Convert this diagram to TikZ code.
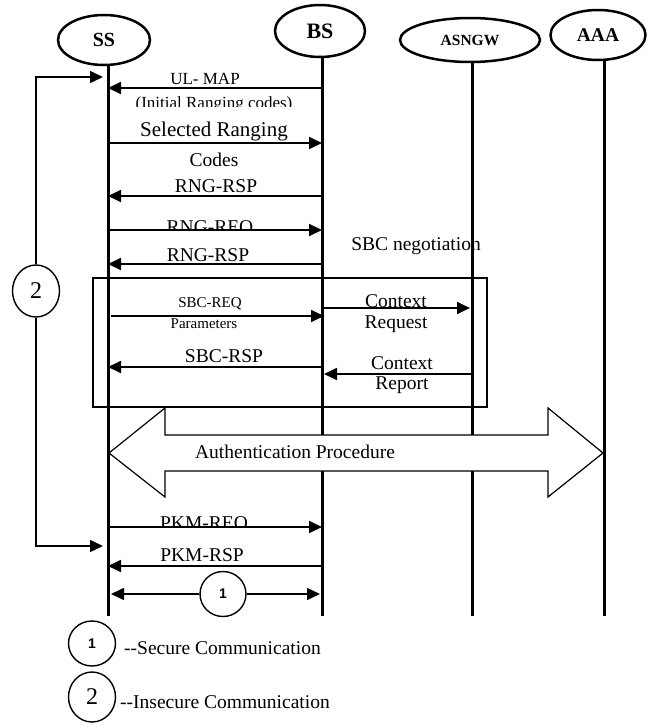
\documentclass[tikz,border=0pt]{standalone}
\usepackage{fontspec}
\setmainfont{Liberation Serif}
\newfontfamily\digitfont{Liberation Sans}
\usetikzlibrary{arrows.meta,shapes.geometric}
\newcommand\fs[1]{\fontsize{#1}{#1}\selectfont}
\begin{document}
\begin{tikzpicture}[x=1pt,y=-1pt,
  every node/.style={inner sep=0pt},
  actor/.style={draw,ellipse,line width=2.5pt,inner sep=0pt},
  life/.style={line width=3pt},
  tip/.style={-{Triangle[length=13pt,width=12pt]}},
  msg/.style={tip,line width=1.8pt},
  lbl/.style={font=\fs{19.5}},
  smalllbl/.style={font=\fs{15}},
  ring/.style={draw,ellipse,line width=1.4pt,inner sep=0pt},
  brk/.style={tip,line width=1.5pt}
]
\useasboundingbox (0,0) rectangle (648,723);

% lifeline feet
\coordinate (ssB) at (108,616);
\coordinate (bsB) at (322,616);
\coordinate (gwB) at (472,616);
\coordinate (aaB) at (604,616);

% actors
\node[actor,minimum width=92pt,minimum height=50pt,font=\bfseries\fs{20}] (ss) at (104,40) {SS};
\node[actor,minimum width=90pt,minimum height=52pt,font=\bfseries\fs{22}] (bs) at (320,31) {BS};
\node[actor,minimum width=140pt,minimum height=44pt,font=\bfseries\fs{15.5}] (gw) at (470,40) {ASNGW};
\node[actor,minimum width=95pt,minimum height=50pt,font=\bfseries\fs{19.5}] (aaa) at (598,35) {AAA};

% lifelines
\draw[life] (ss.south -| ssB) -- (ssB);
\draw[life] (bs.south -| bsB) -- (bsB);
\draw[life] (gw.south -| gwB) -- (gwB);
\draw[life] (aaa.south -| aaB) -- (aaB);

% insecure phase bracket
\node[ring,minimum width=47pt,minimum height=52pt,font=\fs{24}] (c2) at (36,291) {2};
\draw[brk,shorten >=5pt] (c2.north) |- (ssB |- 0,77);
\draw[brk,shorten >=5pt] (c2.south) |- (ssB |- 0,546);

% initial ranging
\draw[msg] (bsB |- 0,88) -- (ssB |- 0,88);
\node[font=\fs{17}] (tul) at (205,79) {UL- MAP};
\begin{scope}
  \clip (110,90) rectangle (320,106.5);
  \node[font=\fs{17},anchor=base] (tinit) at (214,108) {(Initial Ranging codes)};
\end{scope}

\draw[msg] (ssB |- 0,143) -- (bsB |- 0,143);
\node[font=\fs{21},anchor=base] (tsel) at (214,136) {Selected Ranging};
\node[lbl] (tcodes) at (214,160) {Codes};

\draw[msg] (bsB |- 0,196) -- (ssB |- 0,196);
\node[lbl] (trsp1) at (216,186.5) {RNG-RSP};

\begin{scope}
  \clip (110,200) rectangle (320,230);
  \node[lbl,anchor=base] (treq) at (210,233) {RNG-REQ};
\end{scope}
\draw[msg] (ssB |- 0,230) -- (bsB |- 0,230);

\node[lbl,anchor=base] (tsbc) at (416,250) {SBC negotiation};

\draw[msg] (bsB |- 0,264) -- (ssB |- 0,264);
\node[lbl] (trsp2) at (208,255.5) {RNG-RSP};

% SBC negotiation frame
\draw[line width=1.8pt] (93,278) rectangle (487,407);

\draw[msg,shorten <=3pt,shorten >=-2pt] (ssB |- 0,316) -- (bsB |- 0,316);
\node[smalllbl] (tsbcreq) at (210,304) {SBC-REQ};
\node[smalllbl] (tparam) at (204,324) {Parameters};

\draw[msg,shorten <=2pt,shorten >=2pt] (bsB |- 0,308) -- (gwB |- 0,308);
\node[lbl] (tctx1) at (396,301.5) {Context};
\node[lbl,anchor=base] (treqst) at (396,328) {Request};

\draw[msg] (bsB |- 0,367) -- (ssB |- 0,367);
\node[lbl] (tsbcrsp) at (224,356.5) {SBC-RSP};

\draw[msg,shorten <=-2pt,shorten >=2pt] (gwB |- 0,374) -- (bsB |- 0,374);
\node[lbl] (tctx2) at (402,363.5) {Context};
\node[lbl,anchor=base] (treport) at (402,389) {Report};

% authentication block arrow
\draw[line width=1.2pt,fill=white,line join=miter]
  (109,453) -- (165,408) -- (165,435) -- (548,435) -- (548,408) -- (603,453)
  -- (548,497) -- (548,471) -- (165,471) -- (165,497) -- cycle;
\node[lbl] (tauth) at (295,452) {Authentication Procedure};

% key management
\begin{scope}
  \clip (110,500) rectangle (320,527);
  \node[lbl,anchor=base] (tpkmreq) at (204,529) {PKM-REQ};
\end{scope}
\draw[msg] (ssB |- 0,527) -- (bsB |- 0,527);

\draw[msg] (bsB |- 0,566) -- (ssB |- 0,566);
\node[lbl] (tpkmrsp) at (202,555) {PKM-RSP};

% secure phase
\node[ring,minimum width=46pt,minimum height=45pt,font=\digitfont\bfseries\fs{14}] (c1) at (223,594) {1};
\draw[msg,line width=1.5pt,shorten >=3pt] (c1.west) -- (ssB |- c1.west);
\draw[msg,line width=1.5pt,shorten >=2pt] (c1.east) -- (bsB |- c1.east);

% legend
\node[ring,minimum width=47pt,minimum height=45pt,font=\digitfont\bfseries\fs{14}] (l1) at (92,643.5) {1};
\node[lbl,anchor=west] (tsec) at (124,648.5) {-{}-Secure Communication};
\node[ring,minimum width=47pt,minimum height=50pt,font=\fs{24}] (l2) at (92,697) {2};
\node[lbl,anchor=west] (tinsec) at (120,702.5) {-{}-Insecure Communication};
\end{tikzpicture}
\end{document}
